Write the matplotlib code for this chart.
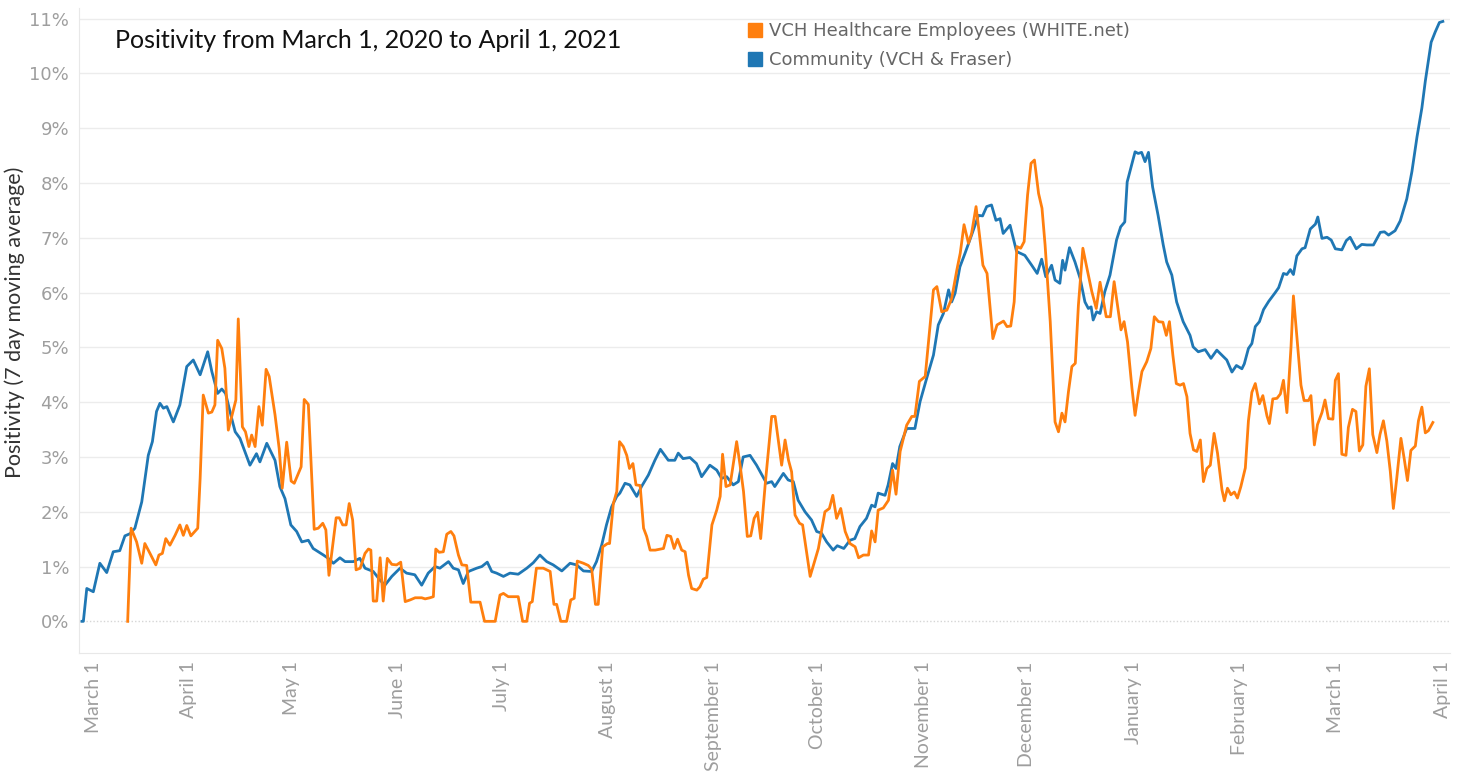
import matplotlib
matplotlib.use("Agg")
import matplotlib.pyplot as plt
import matplotlib.transforms as mtransforms
from matplotlib.lines import Line2D
import pandas as pd

START = pd.Timestamp("2020-03-01")

# Community (VCH & Fraser) -- day offset from March 1, 2020 and % positivity
community_day = [0, 0.4, 1.4, 3.3, 5.2, 7.2, 9.1, 11.0, 12.5, 14.0, 15.4, 17.4, 19.3, 20.5, 21.7, 22.7,
                 23.7, 24.7, 26.6, 28.5, 30.5, 32.4, 34.4, 36.6, 37.8, 39.5, 40.7, 41.8, 43.6, 44.6, 46.0,
                 48.9, 50.8, 51.8, 53.8, 56.2, 57.6, 59.1, 60.8, 62.5, 64.0, 65.9, 67.3, 70.3, 71.7, 73.2,
                 75.1, 76.6, 79.0, 80.9, 82.4, 84.8, 86.8, 88.2, 90.2, 92.6, 94.5, 96.9, 98.9, 100.8, 102.8,
                 104.2, 106.7, 108.1, 109.6, 111.0, 112.5, 114.9, 116.4, 118.0, 119.3, 120.7, 122.7, 124.6,
                 127.0, 129.5, 131.4, 133.3, 135.3, 137.2, 139.7, 142.1, 144.0, 146.0, 148.4, 149.8, 151.3,
                 152.7, 154.2, 155.7, 156.6, 158.1, 159.5, 161.5, 162.9, 164.9, 166.8, 168.4, 170.7, 172.6,
                 173.6, 175.0, 177.0, 178.9, 180.4, 182.8, 184.8, 186.2, 187.7, 189.6, 191.1, 192.5, 194.5,
                 196.4, 199.3, 200.8, 201.7, 204.2, 205.6, 207.1, 208.5, 210.5, 212.4, 213.9, 215.3, 216.8,
                 218.7, 219.9, 221.8, 223.6, 225.0, 226.5, 228.4, 229.9, 230.9, 231.8, 233.8, 234.7, 236.0,
                 237.0, 238.1, 240.1, 242.5, 244.0, 245.9, 247.9, 249.3, 250.8, 252.3, 253.2, 254.2, 255.6,
                 257.1, 259.0, 261.0, 262.2, 263.4, 264.8, 266.1, 267.3, 268.2, 270.2, 272.1, 274.5, 276.5,
                 278.1, 279.4, 280.6, 282.3, 283.3, 284.7, 285.5, 286.2, 287.5, 289.1, 290.6, 292.0, 293.0,
                 293.8, 294.4, 295.4, 296.4, 297.8, 299.3, 301.2, 302.4, 303.6, 304.3, 306.6, 307.5, 308.5,
                 309.5, 310.5, 311.7, 313.3, 314.8, 315.8, 317.3, 318.7, 320.6, 322.6, 323.5, 325.0, 327.0,
                 328.7, 330.4, 333.3, 334.8, 336.1, 337.7, 338.4, 339.6, 340.6, 341.6, 342.8, 344.0, 345.5,
                 347.4, 348.4, 349.8, 350.8, 351.8, 352.7, 353.7, 355.2, 356.1, 357.6, 359.1, 359.8, 361.0,
                 362.5, 363.7, 364.9, 366.8, 368.1, 369.2, 371.0, 372.6, 374.1, 376.0, 378.0, 379.2, 380.4,
                 382.3, 383.8, 385.7, 387.2, 388.7, 390.1, 391.1, 392.8, 394.0, 395.2, 396.2]
community_pct = [0.0, 0.0, 0.60, 0.54, 1.06, 0.89, 1.27, 1.29, 1.56, 1.60, 1.70, 2.18, 3.03, 3.28, 3.83, 3.98,
                 3.89, 3.92, 3.64, 3.95, 4.65, 4.77, 4.50, 4.92, 4.56, 4.16, 4.24, 4.16, 3.70, 3.46, 3.34,
                 2.85, 3.06, 2.91, 3.25, 2.94, 2.46, 2.24, 1.76, 1.64, 1.45, 1.48, 1.33, 1.21, 1.15, 1.06,
                 1.16, 1.09, 1.09, 1.15, 0.97, 0.91, 0.75, 0.66, 0.82, 0.97, 0.88, 0.85, 0.66, 0.88, 1.00,
                 0.97, 1.09, 0.97, 0.94, 0.69, 0.91, 0.97, 1.00, 1.08, 0.91, 0.88, 0.82, 0.88,
                 0.86, 0.97, 1.07, 1.21, 1.09, 1.03, 0.92, 1.06, 1.03, 0.92, 0.91, 1.09, 1.39,
                 1.76, 2.09, 2.28, 2.34, 2.52, 2.49, 2.28, 2.46, 2.67, 2.94, 3.14, 2.94, 2.94,
                 3.07, 2.97, 2.99, 2.88, 2.64, 2.85, 2.76, 2.61, 2.64, 2.49, 2.55, 3.00, 3.03,
                 2.85, 2.52, 2.55, 2.46, 2.70, 2.58, 2.55, 2.21, 2.00, 1.85, 1.64, 1.61, 1.45,
                 1.30, 1.38, 1.33, 1.48, 1.51, 1.73, 1.88, 2.12, 2.09, 2.34, 2.30, 2.49, 2.88,
                 2.79, 3.19, 3.52, 3.52, 4.01, 4.43, 4.86, 5.41, 5.62, 6.05, 5.83, 5.99, 6.47,
                 6.72, 7.05, 7.41, 7.40, 7.57, 7.60, 7.32, 7.35, 7.08, 7.23, 6.75, 6.68, 6.50,
                 6.35, 6.61, 6.29, 6.50, 6.23, 6.17, 6.59, 6.41, 6.82, 6.56, 6.26, 5.83, 5.71,
                 5.74, 5.50, 5.65, 5.62, 6.02, 6.32, 6.96, 7.20, 7.29, 8.02, 8.57, 8.54, 8.56,
                 8.39, 8.56, 7.93, 7.41, 6.87, 6.56, 6.32, 5.83, 5.47, 5.22, 5.01, 4.92, 4.96,
                 4.80, 4.95, 4.77, 4.55, 4.67, 4.61, 4.70, 4.98, 5.07, 5.38, 5.47, 5.69, 5.84,
                 6.00, 6.09, 6.35, 6.33, 6.42, 6.33, 6.67, 6.80, 6.82, 7.16, 7.25, 7.38, 6.99,
                 7.01, 6.96, 6.80, 6.78, 6.95, 7.01, 6.80, 6.88, 6.87, 6.87, 7.10, 7.11, 7.05,
                 7.13, 7.31, 7.71, 8.21, 8.85, 9.37, 9.86, 10.57, 10.76, 10.93, 10.95]

# VCH Healthcare Employees (WHITE.net)
vch_day = [13.3, 14.3, 15.9, 17.4, 18.3, 19.8, 21.5, 22.4, 23.4, 24.4, 25.6, 27.1, 28.5, 29.5, 30.5, 31.7,
           33.7, 34.4, 35.3, 36.8, 37.8, 38.7, 39.5, 40.7, 41.6, 42.6, 43.6, 44.8, 45.5, 46.7, 47.6, 48.6,
           49.4, 50.4, 51.5, 52.5, 53.6, 54.5, 56.2, 57.4, 58.3, 59.6, 60.9, 61.8, 63.8, 64.7, 65.9, 67.6,
           68.8, 70.1, 71.0, 71.9, 74.0, 74.9, 75.9, 76.9, 77.8, 78.8, 79.8, 81.0, 82.4, 83.4, 84.1, 84.8,
           85.8, 86.8, 87.7, 88.9, 90.2, 91.6, 92.8, 94.1, 95.5, 97.0, 98.9, 99.9, 101.3, 102.3, 103.0,
           104.0, 105.2, 106.2, 107.4, 108.3, 109.6, 110.6, 112.0, 113.2, 115.9, 117.2, 120.3, 121.7,
           122.7, 124.1, 127.0, 128.3, 129.5, 130.3, 131.1, 132.3, 134.3, 136.3, 137.4, 138.2, 139.4,
           141.1, 142.3, 143.3, 144.2, 146.0, 147.4, 148.4, 149.5, 150.3, 151.6, 153.0, 153.6, 154.7,
           155.7, 156.5, 157.6, 158.6, 159.4, 160.4, 161.3, 162.5, 163.5, 164.4, 165.4, 166.9, 169.3,
           170.3, 171.4, 172.4, 173.4, 174.6, 175.6, 176.6, 177.5, 179.0, 179.9, 180.9, 181.9, 183.4,
           184.8, 185.8, 186.5, 187.5, 188.7, 190.6, 191.6, 192.6, 193.7, 194.7, 195.7, 196.7, 197.6,
           198.9, 200.8, 201.8, 203.7, 204.7, 205.7, 206.6, 207.6, 208.9, 209.8, 212.0, 214.4, 216.3,
           217.6, 218.6, 219.7, 220.9, 222.2, 223.6, 225.1, 226.1, 227.5, 229.0, 229.9, 230.9, 231.8,
           233.3, 234.8, 236.0, 237.0, 238.2, 240.1, 241.6, 242.5, 243.8, 245.5, 247.9, 248.9, 250.3,
           251.8, 253.2, 254.7, 255.7, 256.8, 258.1, 259.0, 260.3, 261.3, 262.3, 263.5, 265.2, 266.4,
           268.3, 269.3, 270.4, 271.4, 272.2, 273.3, 274.3, 275.3, 276.3, 277.3, 278.5, 279.5, 280.4,
           281.9, 283.3, 284.3, 285.3, 286.2, 287.2, 288.2, 289.2, 290.1, 291.4, 292.6, 294.0, 295.3,
           296.4, 298.2, 299.4, 300.5, 302.5, 303.4, 304.4, 305.7, 306.6, 307.6, 308.6, 310.0, 311.2,
           312.2, 313.4, 314.7, 315.7, 316.6, 317.6, 318.6, 319.7, 320.7, 321.7, 322.6, 323.6, 324.6,
           325.6, 326.5, 327.5, 328.5, 329.6, 330.6, 331.9, 332.6, 333.5, 334.5, 335.5, 336.4, 337.4,
           338.7, 339.6, 340.6, 341.6, 342.8, 343.8, 345.0, 345.7, 346.7, 347.9, 348.9, 349.8, 350.8,
           352.0, 352.7, 353.9, 354.9, 355.8, 357.1, 357.8, 358.8, 359.7, 361.0, 361.9, 362.9, 364.2,
           364.9, 365.8, 366.8, 368.0, 368.7, 369.9, 370.9, 371.9, 372.9, 373.8, 374.8, 375.8, 377.0,
           377.9, 378.9, 379.9, 380.9, 381.8, 382.8, 384.0, 385.0, 385.9, 386.9, 388.2, 389.1, 390.1,
           391.1, 392.0, 393.3]
vch_pct = [0.0, 1.70, 1.45, 1.06, 1.42, 1.24, 1.03, 1.21, 1.24, 1.51, 1.39, 1.57, 1.76, 1.57, 1.75, 1.56,
           1.70, 2.61, 4.13, 3.80, 3.82, 3.95, 5.13, 4.98, 4.62, 3.49, 3.74, 4.04, 5.52, 3.55, 3.46, 3.19,
           3.40, 3.19, 3.92, 3.58, 4.60, 4.47, 3.77, 3.16, 2.43, 3.27, 2.56, 2.52, 2.82, 4.05, 3.96, 1.68,
           1.70, 1.79, 1.67, 0.84, 1.89, 1.89, 1.76, 1.76, 2.15, 1.85, 0.94, 0.97, 1.24, 1.32, 1.30, 0.37,
           0.37, 1.16, 0.37, 1.15, 1.04, 1.03, 1.08, 0.36, 0.39, 0.43, 0.43, 0.41, 0.43, 0.45, 1.32,
           1.26, 1.27, 1.59, 1.64, 1.56, 1.21, 1.03, 1.02, 0.35, 0.35, 0.0, 0.0, 0.48,
           0.51, 0.45, 0.45, 0.0, 0.0, 0.33, 0.36, 0.97, 0.97, 0.91, 0.31, 0.31, 0.0,
           0.0, 0.39, 0.42, 1.10, 1.06, 1.02, 0.95, 0.31, 0.31, 1.36, 1.42, 1.42, 2.15,
           2.37, 3.28, 3.19, 3.03, 2.79, 2.88, 2.49, 2.48, 1.70, 1.55, 1.30, 1.30, 1.33,
           1.57, 1.55, 1.33, 1.50, 1.30, 1.27, 0.84, 0.60, 0.57, 0.63, 0.77, 0.80, 1.76,
           2.03, 2.28, 3.05, 2.46, 2.49, 3.28, 2.85, 2.37, 1.55, 1.56, 1.88, 1.99, 1.51,
           2.49, 3.74, 3.74, 2.85, 3.31, 2.94, 2.73, 1.94, 1.79, 1.76, 0.82, 1.33, 2.00,
           2.06, 2.30, 1.88, 2.06, 1.64, 1.42, 1.36, 1.16, 1.21, 1.21, 1.65, 1.45, 2.03,
           2.07, 2.21, 2.76, 2.32, 3.10, 3.58, 3.74, 3.74, 4.38, 4.47, 6.05, 6.11, 5.65,
           5.68, 5.89, 6.41, 6.72, 7.24, 6.90, 7.08, 7.57, 7.05, 6.50, 6.35, 5.16, 5.41,
           5.48, 5.38, 5.39, 5.83, 6.84, 6.81, 6.93, 7.78, 8.36, 8.42, 7.81, 7.54, 6.87,
           5.47, 3.64, 3.46, 3.80, 3.64, 4.19, 4.65, 4.71, 5.77, 6.81, 6.44, 6.02, 5.71,
           6.19, 5.56, 5.56, 6.20, 5.32, 5.47, 5.10, 4.25, 3.76, 4.19, 4.56, 4.74, 4.98,
           5.56, 5.47, 5.46, 5.22, 5.47, 4.86, 4.34, 4.31, 4.34, 4.10, 3.43, 3.13, 3.10,
           3.31, 2.55, 2.79, 2.85, 3.43, 3.07, 2.40, 2.20, 2.43, 2.31, 2.36, 2.25, 2.46,
           2.80, 3.66, 4.18, 4.34, 3.97, 4.12, 3.75, 3.61, 4.06, 4.07, 4.15, 4.40, 3.81,
           5.01, 5.94, 5.04, 4.31, 4.03, 4.03, 4.12, 3.22, 3.59, 3.81, 4.04, 3.70, 3.69,
           4.40, 4.52, 3.05, 3.03, 3.54, 3.87, 3.83, 3.11, 3.22, 4.29, 4.61, 3.41, 3.08,
           3.41, 3.66, 3.29, 2.74, 2.06, 2.62, 3.34, 2.95, 2.57, 3.12, 3.20, 3.66, 3.91,
           3.44, 3.48, 3.63]

series_names = ["VCH Healthcare Employees (WHITE.net)", "Community (VCH & Fraser)"]
series_colors = ["#ff7f0e", "#1f77b4"]

tick_dates = ["2020-03-01", "2020-04-01", "2020-05-01", "2020-06-01", "2020-07-01", "2020-08-01",
              "2020-09-01", "2020-10-01", "2020-11-01", "2020-12-01", "2021-01-01", "2021-02-01",
              "2021-03-01", "2021-04-01"]
tick_labels = ["March 1", "April 1", "May 1", "June 1", "July 1", "August 1", "September 1",
               "October 1", "November 1", "December 1", "January 1", "February 1", "March 1", "April 1"]
y_ticks = list(range(0, 12))

title = "Positivity from March 1, 2020 to April 1, 2021"
y_label = "Positivity (7 day moving average)"


def to_dates(days):
    return START + pd.to_timedelta(days, unit="D")


fig = plt.figure(figsize=(14.61, 7.72), dpi=100)
ax = fig.add_axes([0.054, 0.154, 0.9385, 0.836])

for yv in y_ticks[1:]:
    ax.axhline(yv, color="#ececec", lw=1.0, zorder=0)
ax.axhline(0, color="#d6d6d6", lw=1.0, ls=(0, (1, 1.5)), zorder=0)

ax.plot(to_dates(community_day), community_pct, color=series_colors[1], lw=2.0,
        solid_joinstyle="round", zorder=3)
ax.plot(to_dates(vch_day), vch_pct, color=series_colors[0], lw=2.0,
        solid_joinstyle="round", zorder=4)

ax.set_ylim(-0.58, 11.2)
ax.set_xlim(START + pd.Timedelta(days=-0.9), START + pd.Timedelta(days=398.3))

ax.set_yticks(y_ticks)
ax.set_yticklabels([f"{v}%" for v in y_ticks], fontsize=13, color="#9e9e9e", family="DejaVu Sans")
ax.set_xticks(pd.to_datetime(tick_dates))
ax.set_xticklabels(tick_labels, rotation=90, fontsize=14, color="#9e9e9e", family="Lato",
                   ha="center", va="top")
ax.tick_params(axis="both", length=0)
ax.tick_params(axis="y", pad=7)
ax.tick_params(axis="x", pad=6)

# first label is nudged right inside the axis like the original
first = ax.get_xticklabels()[0]
first.set_transform(first.get_transform() +
                    mtransforms.ScaledTranslation(0.12, 0, fig.dpi_scale_trans))

for s in ["top", "right"]:
    ax.spines[s].set_visible(False)
ax.spines["left"].set_color("#e8e8e8")
ax.spines["bottom"].set_color("#e8e8e8")

fig.text(15 / 1461, 1 - 322 / 772, y_label, fontsize=15.5, family="Lato", color="#333333",
         rotation=90, ha="center", va="center")

fig.text(115 / 1461, 1 - 40 / 772, title, fontsize=18, family="Lato", color="#111111",
         ha="left", va="center")

handles = [Line2D([], [], marker="s", ls="", color=c, markersize=10) for c in series_colors]
leg = fig.legend(handles, series_names, loc="upper left", bbox_to_anchor=(746 / 1461, 1 - 22 / 772),
                 frameon=False, fontsize=13, handletextpad=0.3, labelspacing=0.6,
                 borderpad=0, borderaxespad=0, handlelength=1.0)
for t in leg.get_texts():
    t.set_color("#666666")

fig.savefig("out.png", dpi=100, facecolor="white")
